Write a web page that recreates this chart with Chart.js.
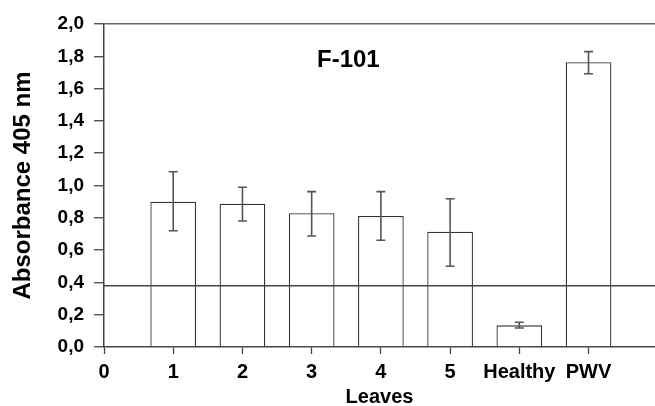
<!DOCTYPE html>
<html>
<head>
<meta charset="utf-8">
<script src="https://cdn.jsdelivr.net/npm/chart.js@4/dist/chart.umd.min.js"></script>
<style>
  html, body { margin: 0; padding: 0; background: #ffffff; }
  #wrap { width: 655px; height: 406px; position: relative; }
</style>
</head>
<body>
<div id="wrap"><canvas id="c" width="655" height="406"></canvas></div>
<script>
// ---- data ----
const categories = ['0', '1', '2', '3', '4', '5', 'Healthy', 'PWV'];
const barCategories = ['1', '2', '3', '4', '5', 'Healthy', 'PWV'];
const meanValues = [0.90, 0.887, 0.828, 0.811, 0.714, 0.134, 1.763];
const errorHigh = [1.085, 0.989, 0.962, 0.962, 0.918, 0.153, 1.829];
const errorLow  = [0.720, 0.780, 0.687, 0.661, 0.500, 0.118, 1.692];
const cutoffValue = 0.38;
const yTickValues = [0, 0.2, 0.4, 0.6, 0.8, 1.0, 1.2, 1.4, 1.6, 1.8, 2.0];
const chartTitle = 'F-101';
const xTitle = 'Leaves';
const yTitle = 'Absorbance 405 nm';

const FONT = '"Liberation Sans", Arial, Helvetica, sans-serif';
const AXIS_COLOR = '#444444';

const barPoints = barCategories.map((c, i) => ({ x: categories.indexOf(c), y: meanValues[i] }));
const xMax = categories.length - 0.04;

const errorBarPlugin = {
  id: 'errorBars',
  afterDatasetsDraw(chart, args, opts) {
    const ctx = chart.ctx;
    const xs = chart.scales.x, ys = chart.scales.y;
    ctx.save();
    ctx.strokeStyle = opts.color;
    ctx.lineWidth = opts.width;
    barPoints.forEach((p, i) => {
      const px = xs.getPixelForValue(p.x);
      const yh = ys.getPixelForValue(errorHigh[i]);
      const yl = ys.getPixelForValue(errorLow[i]);
      ctx.beginPath();
      ctx.moveTo(px, yh); ctx.lineTo(px, yl);
      ctx.moveTo(px - opts.cap, yh); ctx.lineTo(px + opts.cap, yh);
      ctx.moveTo(px - opts.cap, yl); ctx.lineTo(px + opts.cap, yl);
      ctx.stroke();
    });
    ctx.restore();
  }
};

const innerTitlePlugin = {
  id: 'innerTitle',
  afterDraw(chart, args, opts) {
    const ctx = chart.ctx;
    const px = chart.scales.x.getPixelForValue(opts.x);
    const py = chart.scales.y.getPixelForValue(opts.y);
    ctx.save();
    ctx.font = 'bold 24px ' + FONT;
    ctx.fillStyle = '#000';
    ctx.textAlign = 'center';
    ctx.textBaseline = 'middle';
    ctx.fillText(opts.text, px, py);
    ctx.restore();
  }
};

new Chart(document.getElementById('c'), {
  data: {
    datasets: [
      {
        type: 'bar',
        data: barPoints,
        backgroundColor: '#ffffff',
        borderColor: '#333333',
        borderWidth: 1.3,
        barPercentage: 0.66,
        categoryPercentage: 1.0,
        order: 2
      },
      {
        type: 'line',
        data: [{ x: 0, y: cutoffValue }, { x: xMax, y: cutoffValue }],
        borderColor: '#444444',
        borderWidth: 1.5,
        pointRadius: 0,
        fill: false,
        order: 1
      }
    ]
  },
  options: {
    responsive: false,
    animation: false,
    devicePixelRatio: 1,
    layout: { padding: { top: 24, right: 0, left: 0, bottom: 0 } },
    plugins: {
      legend: { display: false },
      tooltip: { enabled: false },
      title: { display: false },
      errorBars: { color: '#555555', width: 1.6, cap: 4.5 },
      innerTitle: { text: chartTitle, x: 3.53, y: 1.777 }
    },
    scales: {
      x: {
        type: 'linear',
        offset: false,
        min: 0,
        max: xMax,
        afterBuildTicks(scale) {
          scale.ticks = categories.map((c, i) => ({ value: i }));
        },
        afterFit(scale) { scale.height = 59; },
        ticks: {
          stepSize: 1,
          autoSkip: false,
          maxRotation: 0,
          color: '#000',
          padding: 6,
          font: { family: FONT, size: 20, weight: 'bold' },
          callback: (v) => categories[Math.round(v)] ?? ''
        },
        grid: {
          offset: false,
          drawOnChartArea: false,
          tickLength: 7,
          tickColor: AXIS_COLOR,
          tickWidth: 1.3
        },
        border: { color: AXIS_COLOR, width: 1.5 },
        title: {
          display: true,
          text: xTitle,
          color: '#000',
          padding: { top: 0, bottom: 0 },
          font: { family: FONT, size: 20, weight: 'bold', lineHeight: 0.85 }
        }
      },
      y: {
        type: 'linear',
        min: 0,
        max: 2,
        afterBuildTicks(scale) {
          scale.ticks = yTickValues.map(v => ({ value: v }));
        },
        afterFit(scale) { scale.width = 104; },
        ticks: {
          color: '#000',
          padding: 10,
          font: { family: FONT, size: 19, weight: 'bold' },
          callback: (v) => Number(v).toFixed(1).replace('.', ',')
        },
        grid: {
          drawOnChartArea: true,
          color: (ctx) => (ctx.tick && Math.abs(ctx.tick.value - 2) < 1e-6) ? '#666666' : 'rgba(0,0,0,0)',
          lineWidth: 1.5,
          tickLength: 10,
          tickColor: AXIS_COLOR,
          tickWidth: 1.3
        },
        border: { color: AXIS_COLOR, width: 1.5 },
        title: {
          display: true,
          text: yTitle,
          color: '#000',
          padding: { top: 9, bottom: 0 },
          font: { family: FONT, size: 24, weight: 'bold' }
        }
      }
    }
  },
  plugins: [errorBarPlugin, innerTitlePlugin]
});
</script>
</body>
</html>
